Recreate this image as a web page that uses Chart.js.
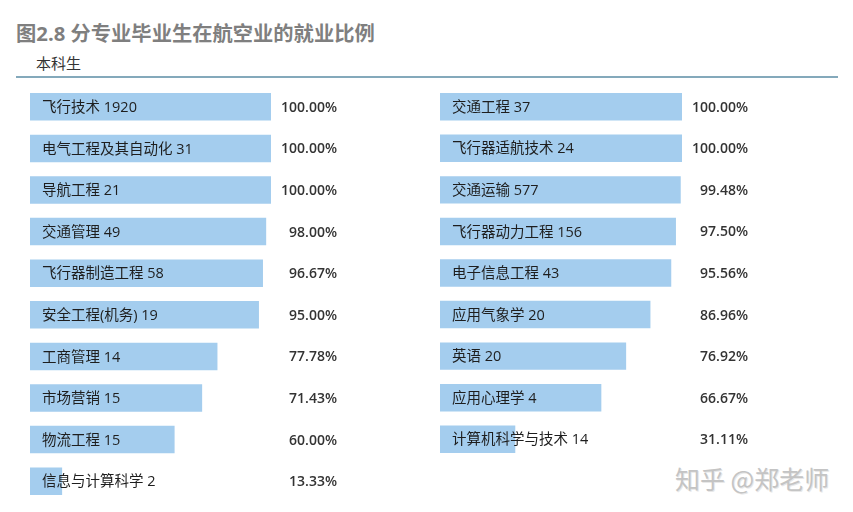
<!DOCTYPE html>
<html><head><meta charset="utf-8">
<script src="https://cdn.jsdelivr.net/npm/chart.js@4/dist/chart.umd.min.js"></script>
<style>
html,body{margin:0;padding:0;background:#fff;width:853px;height:512px;overflow:hidden;position:relative;font-family:"Open Sans","Noto Sans CJK SC",sans-serif;}
#title{position:absolute;left:16px;top:19px;font-size:20.3px;font-weight:bold;color:#7f7f7f;line-height:28px;white-space:nowrap;}
#sub{position:absolute;left:36px;top:52px;font-size:15px;color:#333;line-height:22px;font-family:"Noto Sans CJK SC",sans-serif;}
#rule{position:absolute;left:16px;top:76px;width:822px;height:2px;background:#84a9bb;}
#wm{position:absolute;left:675px;top:462px;font-size:25px;color:#c4c4c4;line-height:32px;white-space:nowrap;text-shadow:1px 1px 0 #e8e8e8;font-family:"Noto Sans CJK SC",sans-serif;}
canvas{position:absolute;}
</style></head>
<body>
<div id="title">图2.8 分专业毕业生在航空业的就业比例</div>
<div id="sub">本科生</div>
<div id="rule"></div>
<canvas id="c1" width="360" height="416" style="left:0;top:86px;"></canvas>
<canvas id="c2" width="360" height="374" style="left:410px;top:86px;"></canvas>
<div id="wm">知乎 @郑老师</div>
<script>
const leftMajors = ["飞行技术","电气工程及其自动化","导航工程","交通管理","飞行器制造工程","安全工程(机务)","工商管理","市场营销","物流工程","信息与计算科学"];
const leftCounts = [1920,31,21,49,58,19,14,15,15,2];
const leftRates = [100.00,100.00,100.00,98.00,96.67,95.00,77.78,71.43,60.00,13.33];

const rightMajors = ["交通工程","飞行器适航技术","交通运输","飞行器动力工程","电子信息工程","应用气象学","英语","应用心理学","计算机科学与技术"];
const rightCounts = [37,24,577,156,43,20,20,4,14];
const rightRates = [100.00,100.00,99.48,97.50,95.56,86.96,76.92,66.67,31.11];

const labelPlugin = {
  id: 'barLabels',
  afterDatasetsDraw(chart) {
    const ctx = chart.ctx;
    const meta = chart.getDatasetMeta(0);
    const area = chart.chartArea;
    const counts = chart.options.plugins.barLabels.counts;
    const labels = chart.data.labels;
    const vals = chart.data.datasets[0].data;
    ctx.save();
    ctx.textBaseline = 'middle';
    meta.data.forEach((bar, i) => {
      ctx.fillStyle = '#1e1e1e';
      ctx.font = '14.5px "Open Sans", "Noto Sans CJK SC", sans-serif';
      ctx.textAlign = 'left';
      ctx.fillText(labels[i] + ' ' + counts[i], area.left + 12, bar.y + 1);
      ctx.fillStyle = '#333333';
      ctx.font = '600 14px "Open Sans", sans-serif';
      ctx.textAlign = 'right';
      ctx.fillText(vals[i].toFixed(2) + '%', area.right + 66, bar.y + 1);
    });
    ctx.restore();
  }
};

function makeChart(id, labels, rates, counts, padRight) {
  return new Chart(document.getElementById(id), {
    type: 'bar',
    data: { labels: labels, datasets: [{ data: rates, backgroundColor: '#a4cdee', borderWidth: 0, categoryPercentage: 1, barPercentage: 0.66 }] },
    options: {
      indexAxis: 'y',
      responsive: false,
      animation: false,
      devicePixelRatio: 1,
      layout: { padding: { left: 30, right: padRight, top: 0, bottom: 0 } },
      scales: {
        x: { display: false, min: 0, max: 100 },
        y: { display: false }
      },
      plugins: { legend: { display: false }, tooltip: { enabled: false }, barLabels: { counts: counts } }
    },
    plugins: [labelPlugin]
  });
}

function draw() {
  makeChart('c1', leftMajors, leftRates, leftCounts, 89);
  makeChart('c2', rightMajors, rightRates, rightCounts, 88);
}
Promise.all([
  document.fonts.load('14px "Noto Sans CJK SC"'),
  document.fonts.load('14px "Open Sans"'),
  document.fonts.load('600 14px "Open Sans"')
]).then(draw, draw);
</script>
</body></html>
